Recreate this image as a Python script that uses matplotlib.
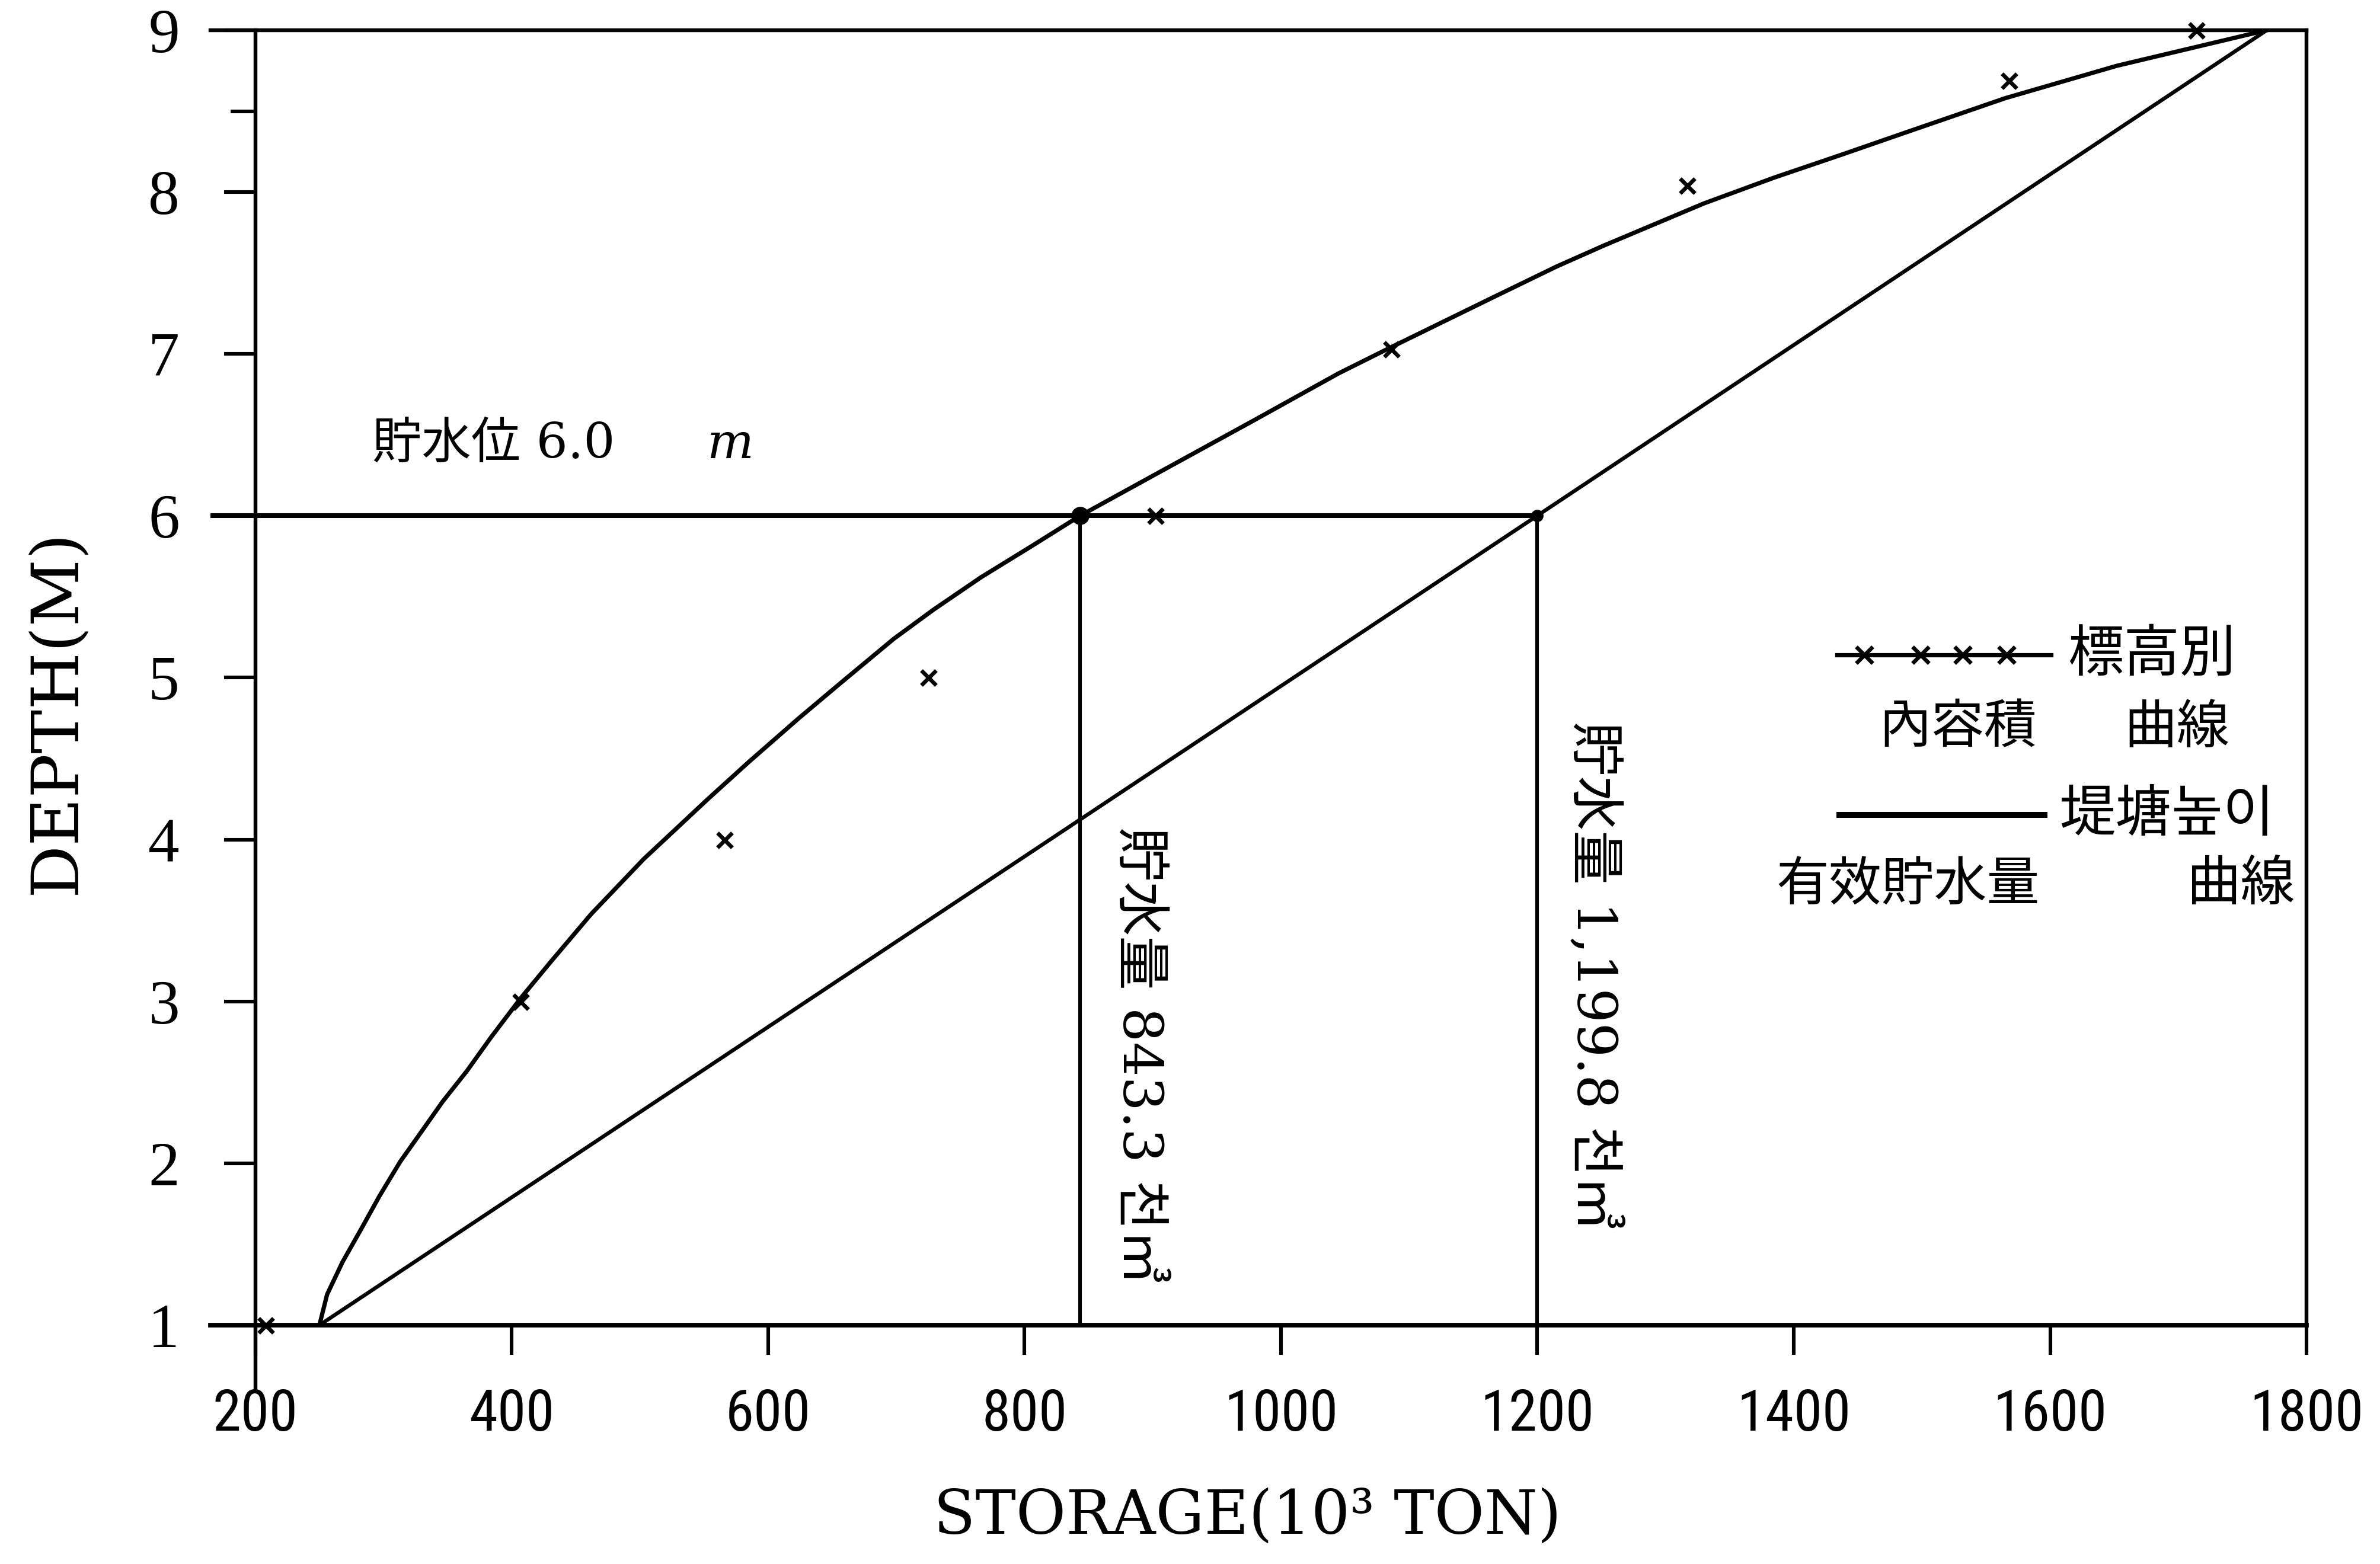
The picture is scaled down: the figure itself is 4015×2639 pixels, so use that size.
import matplotlib
matplotlib.use('Agg')
import matplotlib.pyplot as plt

CJK = ['Noto Sans CJK KR', 'DejaVu Sans']
SERIF_CJK = ['DejaVu Serif', 'Noto Sans CJK KR']
plt.rcParams['font.family'] = CJK

# 標高別 內容積 曲線 (smooth curve, depth m vs storage 10^3 ton)
curve_depth = [1.00, 1.19, 1.39, 1.60, 1.80, 2.01, 2.20, 2.38, 2.57, 2.78,
               3.02, 3.25, 3.54, 3.88, 4.25, 4.48, 4.75, 4.97, 5.24, 5.42,
               5.62, 5.81, 6.00, 6.26, 6.59, 6.88, 7.03, 7.34, 7.54, 7.67,
               7.93, 8.09, 8.23, 8.37, 8.58, 8.78, 9.00]
curve_storage = [250, 256, 268, 283, 297, 313, 330, 346, 365, 384,
                 407, 431, 462, 503, 553, 585, 624, 657, 698, 729,
                 766, 805, 843.3, 903, 979, 1045, 1083, 1163, 1215, 1252,
                 1330, 1385, 1437, 1488, 1565, 1652, 1769]

# measured points (x markers)
obs_depth = [1.0, 3.0, 4.0, 5.0, 6.0, 7.03, 8.04, 8.69, 9.0]
obs_storage = [208, 407, 566, 725, 902, 1086, 1317, 1568, 1714]

# 有效貯水量 曲線 (straight line)
eff_depth = [1.0, 6.0, 9.0]
eff_storage = [250, 1199.8, 1769]

# 貯水位 and the two storages read at it
level = 6.0
storage_total = 843.3
storage_eff = 1199.8

x_ticks = [200, 400, 600, 800, 1000, 1200, 1400, 1600, 1800]
y_ticks = [1, 2, 3, 4, 5, 6, 7, 8, 9]

X_LEFT, X_RIGHT = 165, 1800
Y_LOW, Y_HIGH = 1, 9

fig = plt.figure(figsize=(20.08, 13.195), dpi=200)
ax = fig.add_axes([0.0884, 0.1527, 0.8805, 0.828])
ax.set_xlim(X_LEFT, X_RIGHT)
ax.set_ylim(Y_LOW, Y_HIGH)

# frame
ax.spines['left'].set_position(('data', 200))
for side in ['left', 'top', 'right']:
    ax.spines[side].set_linewidth(2.3)
ax.spines['bottom'].set_linewidth(2.8)
# long 200 tick: left spine runs below the axis
ax.plot([200, 200], [Y_LOW, Y_LOW - 0.4], color='black', lw=2.3, clip_on=False)

ax.set_xticks(x_ticks)
ax.set_xticklabels([str(v) for v in x_ticks])
ax.set_yticks(y_ticks)
ax.set_yticklabels([str(v) for v in y_ticks])
ax.set_yticks([8.5], minor=True)
ax.tick_params(axis='x', direction='out', length=18, width=2.2, pad=20,
               labelsize=35, labelfontfamily=['Roboto Condensed', 'Liberation Sans'])
ax.tick_params(axis='y', which='major', direction='out', length=19, width=2.2, pad=27,
               labelsize=38, labelfontfamily=['Liberation Serif', 'DejaVu Serif'])
ax.tick_params(axis='y', which='minor', direction='out', length=15, width=2.2)

# curves
ax.plot(curve_storage, curve_depth, color='black', lw=2.6, zorder=3,
        solid_joinstyle='round')
ax.plot(obs_storage, obs_depth, linestyle='none', marker='x', color='black',
        markersize=9, markeredgewidth=2.4, zorder=4, clip_on=False)
ax.plot(eff_storage, eff_depth, color='black', lw=2.3, zorder=3)

# water level guide lines
ax.hlines(level, X_LEFT, storage_eff, color='black', lw=2.9, zorder=2)
ax.vlines([storage_total, storage_eff], Y_LOW, level, color='black', lw=2.2, zorder=2)
ax.plot([storage_total], [level], 'o', color='black', markersize=10, zorder=5)
ax.plot([storage_eff], [level], 'o', color='black', markersize=6.5, zorder=5)

# annotations
ax.text(291, 6.44, '貯水位 6.0', fontsize=30, va='center', ha='left',
        family=SERIF_CJK)
ax.text(552, 6.44, 'm', fontsize=30, va='center', ha='left', style='italic',
        family=['DejaVu Serif'])
ax.text(889, 4.08, '貯水量 843.3 천㎥', fontsize=33, rotation=270,
        ha='center', va='top', family=SERIF_CJK)
ax.text(1244, 4.73, '貯水量 1,199.8 천㎥', fontsize=33, rotation=270,
        ha='center', va='top', family=SERIF_CJK)

# hand-drawn legend
tA = ax.transAxes
ax.plot([0.776, 0.878], [0.5175, 0.5175], color='black', lw=2.6, transform=tA)
ax.plot([0.789, 0.816, 0.836, 0.857], [0.5175] * 4, linestyle='none', marker='x',
        color='black', markersize=10, markeredgewidth=2.4, transform=tA)
ax.text(0.886, 0.5175, '標高別', fontsize=34, va='center', ha='left', transform=tA)
ax.text(0.796, 0.461, '內容積', fontsize=32, va='center', ha='left', transform=tA)
ax.text(0.913, 0.461, '曲線', fontsize=32, va='center', ha='left', transform=tA)
ax.plot([0.777, 0.875], [0.394, 0.394], color='black', lw=3.6, transform=tA)
ax.text(0.882, 0.394, '堤塘높이', fontsize=34, va='center', ha='left', transform=tA)
ax.text(0.747, 0.340, '有效貯水量', fontsize=32, va='center', ha='left', transform=tA)
ax.text(0.9425, 0.340, '曲線', fontsize=33, va='center', ha='left', transform=tA)

# axis titles
fig.text(0.524, 0.030, 'STORAGE(10³ TON)', fontsize=37, ha='center', va='center',
         family=['DejaVu Serif'])
fig.text(0.024, 0.545, 'DEPTH(M)', fontsize=40, ha='center', va='center',
         rotation=90, family=['DejaVu Serif'])

fig.savefig('out.png', dpi=200, facecolor='white')
